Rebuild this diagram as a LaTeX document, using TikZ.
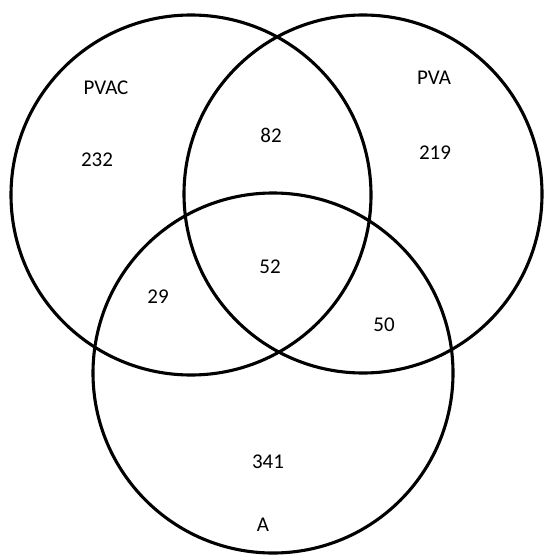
\documentclass[tikz,border=0pt]{standalone}
\usepackage{fontspec}
\setmainfont{Carlito}
\begin{document}
\begin{tikzpicture}[x=1pt,y=-1pt,
  ring/.style={draw=black,line width=3.1pt},
  lbl/.style={font=\fontsize{21}{24}\selectfont,inner sep=0pt}]
\useasboundingbox (0,0) rectangle (544,556);
\fill[white] (0,0) rectangle (544,556);
\node[ring,circle,minimum size=360pt,inner sep=0pt] (pvac) at (191,195) {};
\node[ring,circle,minimum size=358pt,inner sep=0pt] (pva) at (363,194) {};
\node[ring,circle,minimum size=360pt,inner sep=0pt] (a) at (273,373) {};
\node[lbl] (tpvac) at (106,88) {PVAC};
\node[lbl] (n232) at (97,160) {232};
\node[lbl] (tpva) at (434,78) {PVA};
\node[lbl] (n219) at (435,153) {219};
\node[lbl] (n82) at (271,135) {82};
\node[lbl] (n52) at (270,267) {52};
\node[lbl] (n29) at (158,297) {29};
\node[lbl] (n50) at (384,325) {50};
\node[lbl] (n341) at (268,462) {341};
\node[lbl] (ta) at (263,525) {A};
\end{tikzpicture}
\end{document}
